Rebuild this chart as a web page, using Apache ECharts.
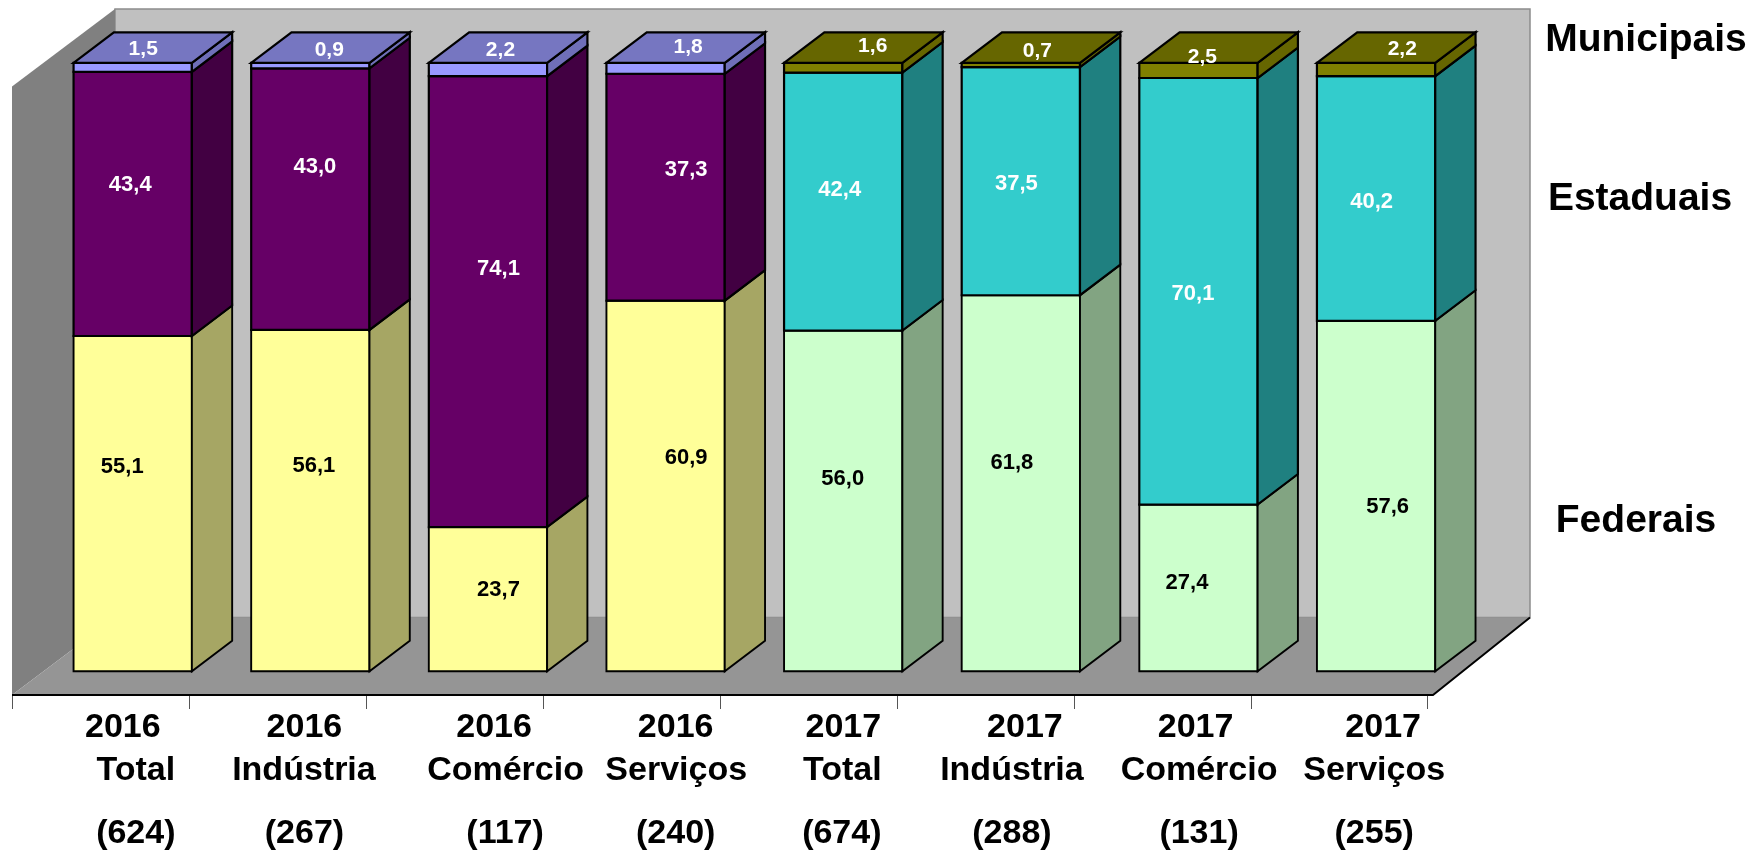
<!DOCTYPE html>
<html>
<head>
<meta charset="utf-8">
<style>html,body{margin:0;padding:0;background:#fff}#c{width:1755px;height:852px}</style>
<script src="https://cdn.jsdelivr.net/npm/echarts@6/dist/echarts.min.js"></script>
</head>
<body>
<div id="c"></div>
<script>
// ---- data ----
const years = ['2016','2016','2016','2016','2017','2017','2017','2017'];
const sectors = ['Total','Indústria','Comércio','Serviços','Total','Indústria','Comércio','Serviços'];
const counts = ['(624)','(267)','(117)','(240)','(674)','(288)','(131)','(255)'];
const categories = years.map((y, i) => y + ' ' + sectors[i]);
const federais = [55.1, 56.1, 23.7, 60.9, 56.0, 61.8, 27.4, 57.6];
const estaduais = [43.4, 43.0, 74.1, 37.3, 42.4, 37.5, 70.1, 40.2];
const municipais = [1.5, 0.9, 2.2, 1.8, 1.6, 0.7, 2.5, 2.2];
const seriesNames = ['Federais', 'Estaduais', 'Municipais'];

// ---- layout and styles ----
const FONT = '"Liberation Sans", Arial, sans-serif';
const BOX_DX_L = 103, BOX_DX_R = 97, BOX_DY = 77.5;      // depth of the chart box
const BAR_SHIFT_X = 31.9, BAR_SHIFT_Y = 23.7; // bars stand partway into the box
const BAR_W = 118.3, BAR_DX = 40.3, BAR_DY = 30.5; // bar width and depth
const LABEL_NUDGE_Y = 1.8;
const yearDx = [22, 26, 38, 42, 32, 36, 29, 39];
const sectorDx = [35, 25.5, 49.5, 42.5, 31, 23, 32.5, 30];
const countDx = [35, 26, 49, 42, 30.5, 23, 32.5, 30];
const labelDx = [
  [-10, 4, 11, 21, 0, -8.5, -11, 12],
  [-2, 5, 11, 21, -3, -4, -5, -4],
  [11, 19.4, 13, 23, 30, 17, 4.4, 26.7]
];
const labelDy = [
  [-39, -36, -11.4, -30, -24, -22, -6.7, 9],
  [-20.5, -33.5, -34, -19.4, -13.6, 1, 0.7, 1.8],
  [-19.6, -16.7, -20.7, -22.5, -22.9, -15.8, -14.6, -22]
];
const palette = {
  2016: [
    {front:'#FFFF99', side:'#A6A664', text:'#000'},
    {front:'#660066', side:'#420042', text:'#fff'},
    {front:'#9999FF', side:'#6F6FB8', top:'#7676C1', text:'#fff'}
  ],
  2017: [
    {front:'#CCFFCC', side:'#82A482', text:'#000'},
    {front:'#33CCCC', side:'#1F8080', text:'#fff'},
    {front:'#808000', side:'#666600', top:'#666600', text:'#fff'}
  ]
};
const stacks = [federais, estaduais, municipais];

function poly(points, fill, stroke, lw) {
  return {type:'polygon', shape:{points}, style:{fill, stroke: stroke || 'none', lineWidth: lw || 0, lineJoin:'miter'}};
}

function renderFrame(params, api) {
  const s = params.coordSys;
  const x0 = s.x, x1 = s.x + s.width, yT = s.y, yB = s.y + s.height;
  const dy = BOX_DY, bl = x0 + BOX_DX_L, br = x1 + BOX_DX_R;
  return {type:'group', children:[
    poly([[bl, yT - dy],[br, yT - dy],[br, yB - dy],[bl, yB - dy]], '#C0C0C0', '#8C8C8C', 1.5),
    poly([[x0, yT],[bl, yT - dy],[bl, yB - dy],[x0, yB]], '#808080'),
    poly([[x0, yB],[x1, yB],[br, yB - dy],[bl, yB - dy]], '#959595'),
    {type:'polyline', shape:{points:[[x0, yB],[x1, yB],[br, yB - dy]]}, style:{fill:'none', stroke:'#000', lineWidth:2}}
  ]};
}

function renderStack(k) {
  return function (params, api) {
    const i = api.value(0);
    const v = stacks[k][i];
    let base = 0;
    for (let j = 0; j < k; j++) base += stacks[j][i];
    const pc = palette[years[i]][k];
    const lo = api.coord([i, base]);
    const hi = api.coord([i, base + v]);
    const l = lo[0] + BAR_SHIFT_X - BAR_W / 2, r = l + BAR_W;
    const yLo = lo[1] - BAR_SHIFT_Y, yHi = hi[1] - BAR_SHIFT_Y;
    const lw = k === 0 ? 1.9 : 2.2;
    const children = [
      poly([[l, yHi],[r, yHi],[r, yLo],[l, yLo]], pc.front, '#000', lw),
      poly([[r, yHi],[r + BAR_DX, yHi - BAR_DY],[r + BAR_DX, yLo - BAR_DY],[r, yLo]], pc.side, '#000', lw)
    ];
    if (k === 2) {
      children.push(poly([[l, yHi],[l + BAR_DX, yHi - BAR_DY],[r + BAR_DX, yHi - BAR_DY],[r, yHi]], pc.top, '#000', lw));
    }
    children.push({type:'text', z2:10, style:{
      text: v.toFixed(1).replace('.', ','),
      x: (l + r) / 2 + labelDx[k][i] - 0.5,
      y: (yLo + yHi) / 2 + labelDy[k][i] + LABEL_NUDGE_Y,
      align:'center', verticalAlign:'middle',
      font:'bold ' + (k === 2 ? 21 : 22) + 'px ' + FONT, fill: pc.text
    }});
    return {type:'group', children};
  };
}

function renderCatLabels(params, api) {
  const i = api.value(0);
  const p = api.coord([i, 0]);
  const t = (text, dx, dy) => ({type:'text', style:{
    text, x: p[0] + dx, y: p[1] + dy, align:'center', verticalAlign:'middle',
    font:'bold 34px ' + FONT, fill:'#000'
  }});
  return {type:'group', children:[
    t(years[i], yearDx[i], 33),
    t(sectors[i], sectorDx[i], 75.5),
    t(counts[i], countDx[i], 139)
  ]};
}

const idx = categories.map((c, i) => [i]);
const base = {type:'custom', coordinateSystem:'cartesian2d', xAxisIndex:0, yAxisIndex:0, clip:false, silent:true, animation:false};

const chart = echarts.init(document.getElementById('c'), null, {renderer:'canvas', width:1755, height:852});
chart.setOption({
  animation:false,
  backgroundColor:'#fff',
  grid:[
    {left:12, width:1421, top:86.5, height:608.5, containLabel:false},
    {left:12.7, width:1415, top:86.5, height:608.5, containLabel:false}
  ],
  xAxis:[
    {type:'category', gridIndex:0, data:categories, show:false},
    {type:'category', gridIndex:1, data:categories, boundaryGap:true,
     axisLine:{show:false}, axisLabel:{show:false}, splitLine:{show:false},
     axisTick:{show:true, alignWithLabel:false, length:14, lineStyle:{color:'#555', width:1}}}
  ],
  yAxis:[
    {type:'value', gridIndex:0, min:0, max:100, show:false},
    {type:'value', gridIndex:1, min:0, max:100, show:false}
  ],
  graphic:[
    {type:'text', style:{text:'Municipais', x:1646, y:40, align:'center', verticalAlign:'middle', font:'bold 39px ' + FONT, fill:'#000'}},
    {type:'text', style:{text:'Estaduais', x:1640, y:199, align:'center', verticalAlign:'middle', font:'bold 39px ' + FONT, fill:'#000'}},
    {type:'text', style:{text:'Federais', x:1636, y:521, align:'center', verticalAlign:'middle', font:'bold 39px ' + FONT, fill:'#000'}}
  ],
  series:[
    Object.assign({}, base, {name:'frame', z:1, data:[[0]], renderItem:renderFrame}),
    {type:'custom', coordinateSystem:'cartesian2d', xAxisIndex:1, yAxisIndex:1, z:1, silent:true, data:[], renderItem:() => null},
    Object.assign({}, base, {name:seriesNames[0], z:3, data:idx, renderItem:renderStack(0)}),
    Object.assign({}, base, {name:seriesNames[1], z:4, data:idx, renderItem:renderStack(1)}),
    Object.assign({}, base, {name:seriesNames[2], z:5, data:idx, renderItem:renderStack(2)}),
    Object.assign({}, base, {name:'labels', z:6, data:idx, renderItem:renderCatLabels})
  ]
});
</script>
</body>
</html>
